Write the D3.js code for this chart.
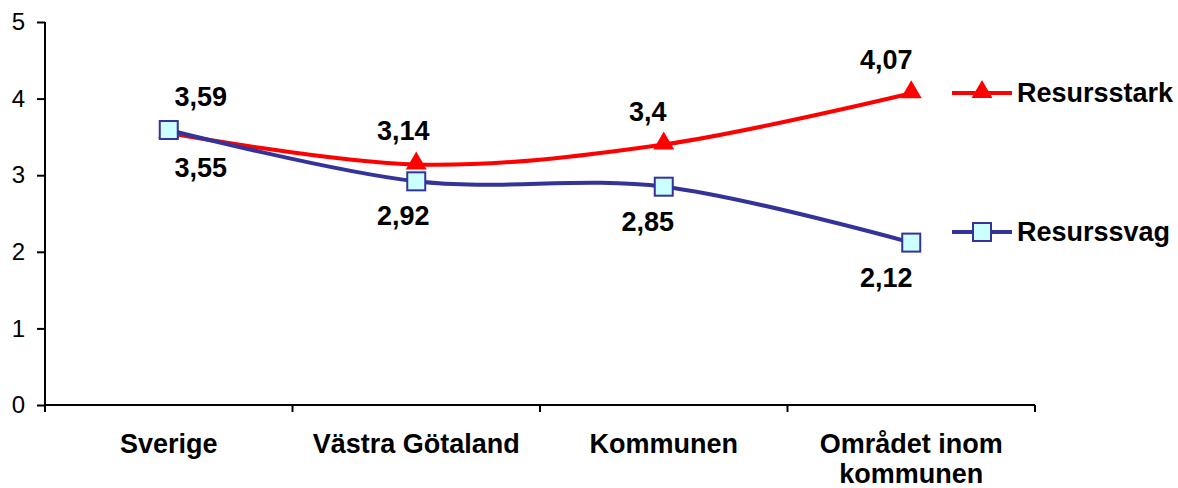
<!DOCTYPE html>
<html>
<head>
    <meta charset="utf-8">
    <title>Resursstark / Resurssvag</title>
    <script src="https://cdnjs.cloudflare.com/ajax/libs/d3/7.8.5/d3.min.js"></script>
    <style>
        body {
            margin: 0;
            background: #fff;
            font-family: Arial, "Liberation Sans", sans-serif;
        }
        .axis path, .axis line {
            stroke: #000;
            stroke-width: 2px;
        }
        .tick text {
            font-size: 24px;
            fill: #000;
        }
        .lbl {
            font-size: 27px;
            font-weight: bold;
        }
    </style>
</head>
<body>
    <div id="chart"></div>

    <script>
        // Data
        const categories = ["Sverige", "Västra Götaland", "Kommunen", "Området inom kommunen"];
        const categoryLines = [["Sverige"], ["Västra Götaland"], ["Kommunen"], ["Området inom", "kommunen"]];
        const resursstark = [3.55, 3.14, 3.4, 4.07];
        const resurssvag = [3.59, 2.92, 2.85, 2.12];
        const yTicks = [0, 1, 2, 3, 4, 5];

        const width = 1178;
        const height = 488;
        const margin = { top: 22, right: 143, bottom: 83, left: 45 };

        const svg = d3.select("#chart")
            .append("svg")
            .attr("width", width)
            .attr("height", height);

        const x = d3.scaleBand()
            .domain(categories)
            .range([margin.left, width - margin.right])
            .padding(0);

        const y = d3.scaleLinear()
            .domain([0, 5])
            .range([height - margin.bottom, margin.top]);

        const cx = c => x(c) + x.bandwidth() / 2;

        // Y axis
        svg.append("g")
            .attr("class", "axis")
            .attr("transform", `translate(${margin.left},0)`)
            .call(d3.axisLeft(y).tickValues(yTicks).tickSize(8).tickPadding(12).tickFormat(d3.format("d")))
            .call(g => g.select(".domain").attr("d", `M0,${y(5)}V${y(0)}`))
            .selectAll(".tick text")
            .attr("font-family", "Arial, 'Liberation Sans', sans-serif");

        // X axis: line plus ticks at category boundaries
        const xAxis = svg.append("g").attr("class", "axis");
        xAxis.append("path")
            .attr("d", `M${margin.left},${y(0)}H${width - margin.right}`)
            .attr("fill", "none");
        const bounds = categories.map(c => x(c)).concat([x(categories[categories.length - 1]) + x.bandwidth()]);
        xAxis.selectAll("line.xt")
            .data(bounds)
            .enter()
            .append("line")
            .attr("class", "xt")
            .attr("x1", d => d).attr("x2", d => d)
            .attr("y1", y(0)).attr("y2", y(0) + 7);

        // Category labels
        svg.selectAll("text.cat")
            .data(categories)
            .enter()
            .append("text")
            .attr("class", "lbl cat")
            .attr("text-anchor", "middle")
            .each(function(c, i) {
                const t = d3.select(this);
                categoryLines[i].forEach((line, j) => {
                    t.append("tspan")
                        .attr("x", cx(c))
                        .attr("y", y(0) + 48 + j * 30)
                        .text(line);
                });
            });

        const line = d3.line()
            .x((d, i) => cx(categories[i]))
            .y(d => y(d))
            .curve(d3.curveCardinal.tension(0));

        const red = "#ff0000";
        const blue = "#333399";
        const tri = d3.symbol().type(d3.symbolTriangle).size(190);

        // Resursstark line
        svg.append("path")
            .datum(resursstark)
            .attr("d", line)
            .attr("fill", "none")
            .attr("stroke", red)
            .attr("stroke-width", 4);
        svg.selectAll("path.tri")
            .data(resursstark)
            .enter()
            .append("path")
            .attr("class", "tri")
            .attr("d", tri)
            .attr("transform", (d, i) => `translate(${cx(categories[i])},${y(d) - 1})`)
            .attr("fill", red);

        // Resurssvag line
        svg.append("path")
            .datum(resurssvag)
            .attr("d", line)
            .attr("fill", "none")
            .attr("stroke", blue)
            .attr("stroke-width", 4);
        svg.selectAll("rect.sq")
            .data(resurssvag)
            .enter()
            .append("rect")
            .attr("class", "sq")
            .attr("x", (d, i) => cx(categories[i]) - 9)
            .attr("y", d => y(d) - 9)
            .attr("width", 18)
            .attr("height", 18)
            .attr("fill", "#ccffff")
            .attr("stroke", blue)
            .attr("stroke-width", 2);

        // Data labels: larger value above, smaller below
        const labelDx = [32, -13, -16, -25];
        const fmt = v => String(v).replace(".", ",");
        [resursstark, resurssvag].forEach((series, s) => {
            const other = s === 0 ? resurssvag : resursstark;
            svg.selectAll(null)
                .data(series)
                .enter()
                .append("text")
                .attr("class", "lbl")
                .attr("text-anchor", "middle")
                .attr("dominant-baseline", "central")
                .attr("x", (d, i) => cx(categories[i]) + labelDx[i])
                .attr("y", (d, i) => d >= other[i] ? y(d) - 33 : y(d) + 35)
                .text(fmt);
        });

        // Legend
        const legend = [
            { name: "Resursstark", color: red, ypos: 93 },
            { name: "Resurssvag", color: blue, ypos: 232 }
        ];
        const lg = svg.selectAll("g.leg")
            .data(legend)
            .enter()
            .append("g")
            .attr("class", "leg")
            .attr("transform", d => `translate(952,${d.ypos})`);
        lg.append("line")
            .attr("x1", 0).attr("x2", 60)
            .attr("stroke", d => d.color)
            .attr("stroke-width", 4);
        lg.filter((d, i) => i === 0).append("path")
            .attr("d", tri)
            .attr("transform", "translate(30,-1)")
            .attr("fill", red);
        lg.filter((d, i) => i === 1).append("rect")
            .attr("x", 21).attr("y", -9)
            .attr("width", 18).attr("height", 18)
            .attr("fill", "#ccffff")
            .attr("stroke", blue)
            .attr("stroke-width", 2);
        lg.append("text")
            .attr("class", "lbl")
            .attr("x", 65)
            .attr("dy", "0.35em")
            .text(d => d.name);
    </script>
</body>
</html>
